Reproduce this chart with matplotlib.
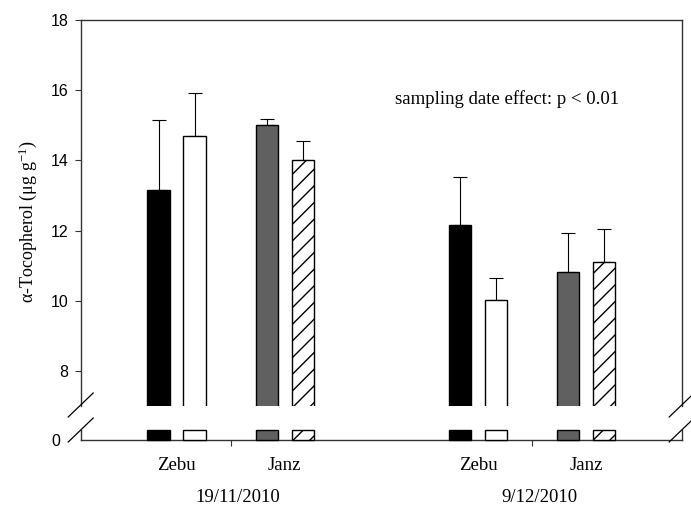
import numpy as np
import matplotlib
matplotlib.use('Agg')
import matplotlib.pyplot as plt
from matplotlib.lines import Line2D
from matplotlib.transforms import blended_transform_factory

# Data
dates = ['19/11/2010', '9/12/2010']
breeds = ['Zebu', 'Janz']
# four bars per date: Zebu (black, white), Janz (grey, hatched)
toco_1911 = [13.15, 14.69, 15.01, 14.02]
err_1911 = [2.00, 1.24, 0.18, 0.53]
toco_0912 = [12.17, 10.03, 10.81, 11.11]
err_0912 = [1.36, 0.62, 1.11, 0.92]
note = 'sampling date effect: p < 0.01'

values = [toco_1911, toco_0912]
errors = [err_1911, err_0912]

# Fonts
plt.rcParams['font.family'] = ['Liberation Serif', 'DejaVu Serif']
plt.rcParams['mathtext.fontset'] = 'custom'
plt.rcParams['mathtext.rm'] = 'Liberation Serif'
plt.rcParams['mathtext.it'] = 'Liberation Serif:italic'
plt.rcParams['hatch.linewidth'] = 1.0

W, H = 691, 507
fig = plt.figure(figsize=(W / 100, H / 100), dpi=100)


def fx(px):
    return px / W


def fy(py):
    return 1 - py / H


left, right = 80.7, 681.7
ax_up = fig.add_axes([fx(left), fy(406), fx(right - left), (406 - 20) / H])
ax_lo = fig.add_axes([fx(left), fy(440), fx(right - left), (440 - 430) / H])

faces = ['black', 'white', '#606060', 'white']
hatches = [None, None, None, '//']
offsets = np.array([0, 1, 3, 4])
group_starts = [2.167, 10.53]
width = 0.625
lower_top = 1.0
spine_col = '#333333'

for g, start in enumerate(group_starts):
    x = start + offsets
    v = np.array(values[g])
    e = np.array(errors[g])
    for i in range(4):
        ax_up.bar(x[i], v[i], width=width, color=faces[i], edgecolor='black',
                  linewidth=1.0, hatch=hatches[i], zorder=3)
        ax_lo.bar(x[i], min(v[i], lower_top), width=width, color=faces[i],
                  edgecolor='black', linewidth=1.0, hatch=hatches[i],
                  zorder=3, clip_on=False)
    ax_up.errorbar(x, v, yerr=[np.zeros(4), e], fmt='none', ecolor='black',
                   elinewidth=0.8, capsize=4.7, capthick=0.8, zorder=2)

for ax in (ax_up, ax_lo):
    ax.set_xlim(0, 16.69)
    for s in ax.spines.values():
        s.set_color(spine_col)
        s.set_linewidth(1.0)
    ax.tick_params(direction='out', length=4.3, width=0.8, color=spine_col,
                   pad=4.5)

ax_up.set_ylim(7, 18)
ax_up.set_yticks(np.arange(8, 19, 2))
ax_up.set_yticklabels([str(t) for t in range(8, 19, 2)],
                      family='Liberation Sans', fontsize=11.5)
ax_up.spines['bottom'].set_visible(False)
ax_up.tick_params(axis='x', bottom=False, labelbottom=False)

ax_lo.set_ylim(0, lower_top)
ax_lo.set_yticks([0])
ax_lo.set_yticklabels(['0'], family='Liberation Sans', fontsize=11.5)
ax_lo.tick_params(axis='y', left=False, pad=10.5)
ax_lo.spines['top'].set_visible(False)
ax_lo.set_xticks([s + 2 for s in group_starts])
ax_lo.set_xticklabels([])

# Break marks
for cx in (left, right):
    for cy in (405, 430):
        fig.add_artist(Line2D([fx(cx - 12.5), fx(cx + 12.5)],
                              [fy(cy + 12), fy(cy - 12)],
                              color='black', linewidth=0.9))

# Category and date labels
trans = blended_transform_factory(ax_lo.transData, fig.transFigure)
for start in group_starts:
    ax_lo.text(start + 0.5, fy(470.5), breeds[0], transform=trans,
               ha='center', va='baseline', fontsize=13.5)
    ax_lo.text(start + 3.5, fy(470.5), breeds[1], transform=trans,
               ha='center', va='baseline', fontsize=13.5)
for g, start in enumerate(group_starts):
    ax_lo.text(start + 2.2, fy(502), dates[g], transform=trans,
               ha='center', va='baseline', fontsize=13.5)

fig.text(fx(395), fy(104), note, ha='left', va='baseline', fontsize=13.5)
fig.text(fx(28), fy(222), 'α-Tocopherol (μg g$^{-1}$)',
         rotation=90, ha='center', va='center', fontsize=13)

fig.savefig('out.png', dpi=100)
plt.close(fig)
